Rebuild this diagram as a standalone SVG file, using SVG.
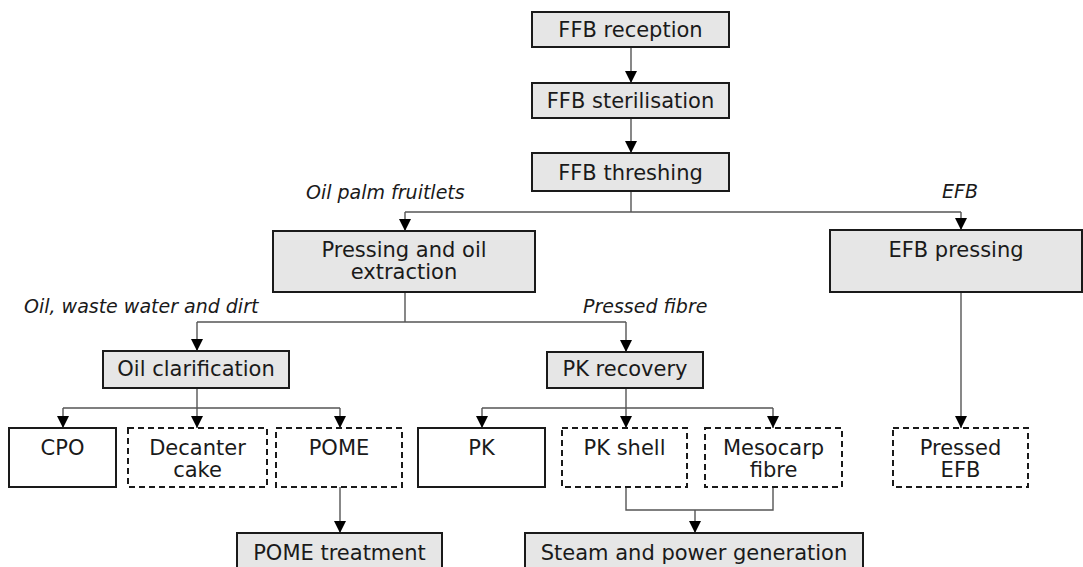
<svg xmlns="http://www.w3.org/2000/svg" width="1083" height="567" viewBox="0 0 1083 567">
<defs>
<marker id="ah" markerUnits="userSpaceOnUse" markerWidth="12" markerHeight="12" refX="10" refY="5" orient="auto" viewBox="0 0 10 10">
<path d="M0,0 L10,5 L0,10 z" fill="#000"/>
</marker>
<style>
.proc{fill:#e6e6e6;stroke:#1a1a1a;stroke-width:2}
.solid{fill:#fff;stroke:#1a1a1a;stroke-width:2}
.dash{fill:#fff;stroke:#1a1a1a;stroke-width:2;stroke-dasharray:6 4}
.t{font-family:"DejaVu Sans",Verdana,sans-serif;font-size:21px;fill:#1a1a1a;text-anchor:middle}
.lbl{font-family:"DejaVu Sans",Verdana,sans-serif;font-size:19px;font-style:italic;fill:#1a1a1a}
.c{fill:none;stroke:#555;stroke-width:1.4}
.a{marker-end:url(#ah)}
</style>
</defs>
<rect width="1083" height="567" fill="#fff"/>
<g id="connectors">
<line class="c a" x1="631" y1="47" x2="631" y2="83"/>
<line class="c a" x1="631" y1="118" x2="631" y2="153"/>
<polyline class="c" points="631,191 631,212"/>
<polyline class="c" points="405,212 961,212"/>
<line class="c a" x1="405" y1="212" x2="405" y2="231"/>
<line class="c a" x1="961" y1="212" x2="961" y2="230"/>
<polyline class="c" points="405,292 405,322"/>
<polyline class="c" points="197,322 626,322"/>
<line class="c a" x1="197" y1="322" x2="197" y2="351"/>
<line class="c a" x1="626" y1="322" x2="626" y2="352"/>
<polyline class="c" points="197,388 197,408"/>
<polyline class="c" points="63,408 340,408"/>
<line class="c a" x1="63" y1="408" x2="63" y2="428"/>
<line class="c a" x1="197" y1="408" x2="197" y2="428"/>
<line class="c a" x1="340" y1="408" x2="340" y2="428"/>
<polyline class="c" points="626,388 626,408"/>
<polyline class="c" points="482,408 773,408"/>
<line class="c a" x1="482" y1="408" x2="482" y2="428"/>
<line class="c a" x1="626" y1="408" x2="626" y2="428"/>
<line class="c a" x1="773" y1="408" x2="773" y2="428"/>
<line class="c a" x1="961" y1="292" x2="961" y2="428"/>
<line class="c a" x1="340" y1="487" x2="340" y2="533"/>
<polyline class="c" points="626,487 626,510 773,510 773,487"/>
<line class="c a" x1="695" y1="510" x2="695" y2="533"/>
</g>
<g id="labels">
<text class="lbl" x="306" y="199">Oil palm fruitlets</text>
<text class="lbl" x="942" y="198">EFB</text>
<text class="lbl" x="24" y="313">Oil, waste water and dirt</text>
<text class="lbl" x="583" y="313">Pressed fibre</text>
</g>
<g id="ffb-reception">
<rect class="proc" x="532" y="12" width="197" height="35"/>
<text class="t" x="630.5" y="37">FFB reception</text>
</g>
<g id="ffb-sterilisation">
<rect class="proc" x="532" y="83" width="197" height="35"/>
<text class="t" x="630.5" y="108">FFB sterilisation</text>
</g>
<g id="ffb-threshing">
<rect class="proc" x="532" y="153" width="197" height="38"/>
<text class="t" x="630.5" y="180">FFB threshing</text>
</g>
<g id="pressing">
<rect class="proc" x="273" y="231" width="262" height="61"/>
<text class="t" x="404" y="257">Pressing and oil</text>
<text class="t" x="404" y="279">extraction</text>
</g>
<g id="efb-pressing">
<rect class="proc" x="830" y="230" width="252" height="62"/>
<text class="t" x="956" y="257">EFB pressing</text>
</g>
<g id="oil-clarification">
<rect class="proc" x="103" y="351" width="186" height="37"/>
<text class="t" x="196" y="376">Oil clarification</text>
</g>
<g id="pk-recovery">
<rect class="proc" x="547" y="352" width="156" height="36"/>
<text class="t" x="625" y="376">PK recovery</text>
</g>
<g id="cpo">
<rect class="solid" x="9" y="428" width="107" height="59"/>
<text class="t" x="62.5" y="455">CPO</text>
</g>
<g id="decanter-cake">
<rect class="dash" x="128" y="428" width="139" height="59"/>
<text class="t" x="197.5" y="455">Decanter</text>
<text class="t" x="197.5" y="477">cake</text>
</g>
<g id="pome">
<rect class="dash" x="276" y="428" width="126" height="59"/>
<text class="t" x="339" y="455">POME</text>
</g>
<g id="pk">
<rect class="solid" x="418" y="428" width="127" height="59"/>
<text class="t" x="481.5" y="455">PK</text>
</g>
<g id="pk-shell">
<rect class="dash" x="562" y="428" width="125" height="59"/>
<text class="t" x="624.5" y="455">PK shell</text>
</g>
<g id="mesocarp-fibre">
<rect class="dash" x="705" y="428" width="137" height="59"/>
<text class="t" x="773.5" y="455">Mesocarp</text>
<text class="t" x="773.5" y="477">fibre</text>
</g>
<g id="pressed-efb">
<rect class="dash" x="893" y="428" width="135" height="59"/>
<text class="t" x="960.5" y="455">Pressed</text>
<text class="t" x="960.5" y="477">EFB</text>
</g>
<g id="pome-treatment">
<rect class="proc" x="237" y="533" width="205" height="50"/>
<text class="t" x="339.5" y="560">POME treatment</text>
</g>
<g id="steam-power">
<rect class="proc" x="525" y="533" width="338" height="50"/>
<text class="t" x="694" y="560">Steam and power generation</text>
</g>
</svg>
